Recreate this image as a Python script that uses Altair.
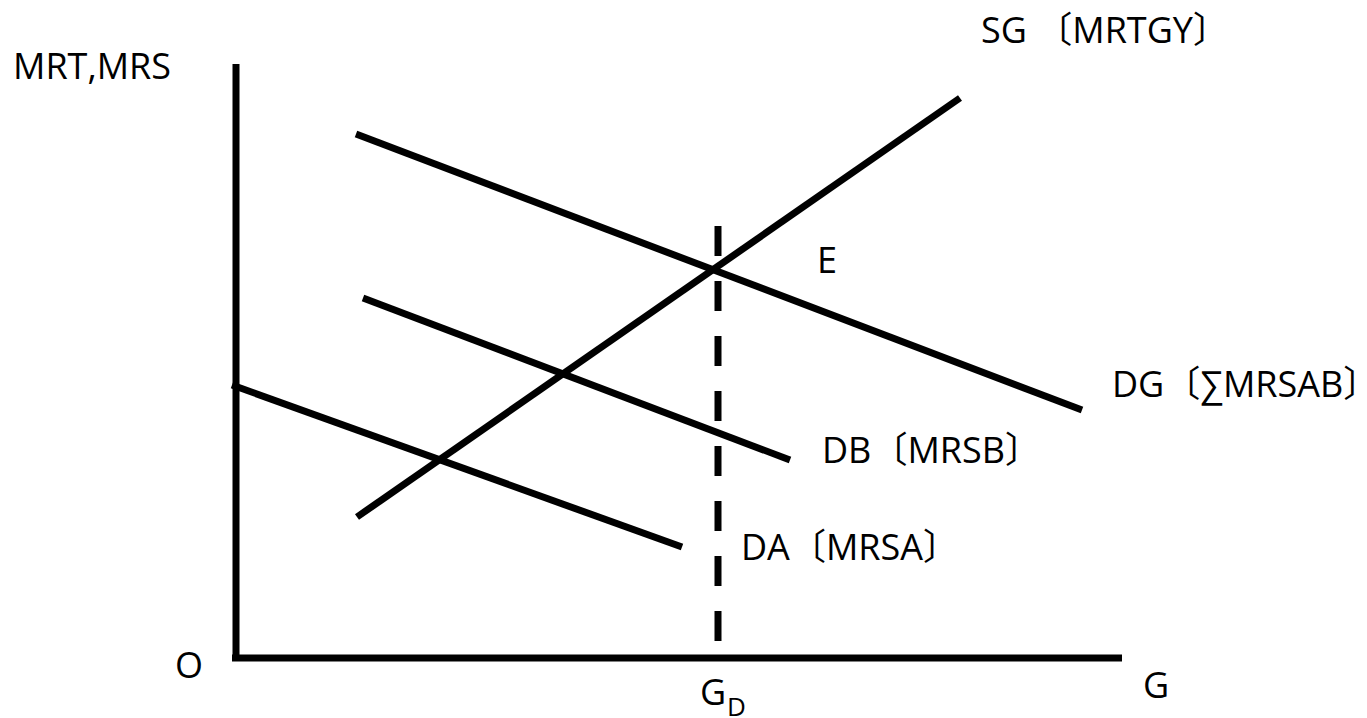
import altair as alt
import pandas as pd

# Values read from the picture, in units of screen pixels measured from the origin O
# (g to the right, v upward).
curve_names = ["SG", "SG", "DG", "DG", "DB", "DB", "DA", "DA"]
curve_g = [122, 725, 121, 847, 128, 555, -3, 447]
curve_v = [141, 560, 524, 248, 360, 198, 273, 111]
curve_seq = [0, 1, 0, 1, 0, 1, 0, 1]

axis_names = ["yaxis", "yaxis", "xaxis", "xaxis"]
axis_g = [1, 1, -3, 887]
axis_v = [594, -3, 0, 0]
axis_seq = [0, 1, 0, 1]

gd_g = [483, 483]
gd_v = [432, 0]
gd_seq = [0, 1]

label_text = ["MRT,MRS", "SG 〔MRTGY〕", "E", "DG〔∑MRSAB〕", "DB〔MRSB〕", "DA〔MRSA〕", "O", "G", "G"]
label_g = [-222, 746, 582, 877, 587, 506, -60, 908, 465]
label_v = [579, 615, 385, 261, 195, 98, -20, -40, -47]

sub_text = ["D"]
sub_g = [492]
sub_v = [-58]

FONT = "'Open Sans', 'Noto Sans CJK SC', 'DejaVu Sans'"

curves = pd.DataFrame({"name": curve_names, "g": curve_g, "v": curve_v, "seq": curve_seq})
axes = pd.DataFrame({"name": axis_names, "g": axis_g, "v": axis_v, "seq": axis_seq})
gd = pd.DataFrame({"name": ["GD"] * 2, "g": gd_g, "v": gd_v, "seq": gd_seq})
labels = pd.DataFrame({"text": label_text, "g": label_g, "v": label_v})
subs = pd.DataFrame({"text": sub_text, "g": sub_g, "v": sub_v})

W, H = 1351, 710
xs = alt.Scale(domain=[-227, -227 + W], nice=False, zero=False)
ys = alt.Scale(domain=[650 - H, 650], nice=False, zero=False)

def enc_line(base):
    return base.encode(
        x=alt.X("g:Q", scale=xs, axis=None),
        y=alt.Y("v:Q", scale=ys, axis=None),
        detail="name:N",
        order="seq:Q",
    )

curve_layer = enc_line(alt.Chart(curves).mark_line(color="black", strokeWidth=7, strokeCap="butt"))
axis_layer = enc_line(alt.Chart(axes).mark_line(color="black", strokeWidth=7, strokeCap="butt"))
gd_layer = enc_line(alt.Chart(gd).mark_line(color="black", strokeWidth=7, strokeCap="butt", strokeDash=[30, 25]))

text_layer = alt.Chart(labels).mark_text(
    align="left", baseline="alphabetic", font=FONT, fontSize=36, color="black"
).encode(
    x=alt.X("g:Q", scale=xs, axis=None),
    y=alt.Y("v:Q", scale=ys, axis=None),
    text="text:N",
)

sub_layer = alt.Chart(subs).mark_text(
    align="left", baseline="alphabetic", font=FONT, fontSize=26, color="black"
).encode(
    x=alt.X("g:Q", scale=xs, axis=None),
    y=alt.Y("v:Q", scale=ys, axis=None),
    text="text:N",
)

chart = alt.layer(axis_layer, gd_layer, curve_layer, text_layer, sub_layer).properties(
    width=W, height=H, padding=0, autosize=alt.AutoSizeParams(type="none"),
    background="white",
).configure_view(stroke=None)

chart.save("out.html", embed_options={"renderer": "svg", "actions": False})
